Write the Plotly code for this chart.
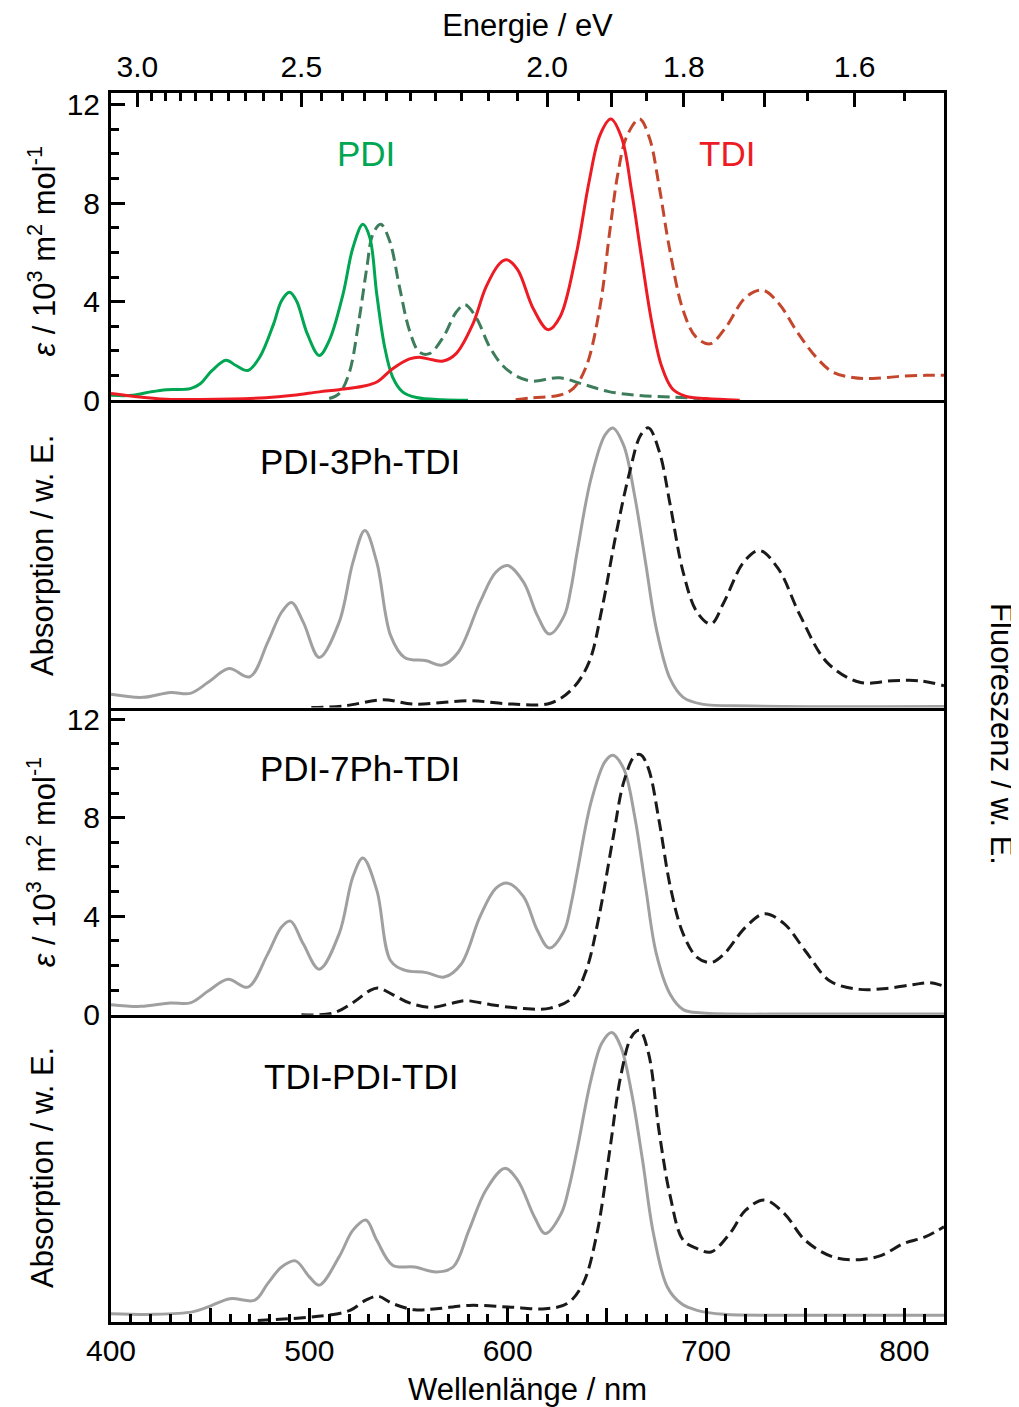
import plotly.graph_objects as go

# ---------------- data ----------------
# Panel 1: PDI and TDI reference spectra (epsilon / 10^3 m^2 mol^-1)
PDI_abs_nm = [400, 411, 420, 428, 440, 445, 451, 458, 463, 469, 475, 482, 486, 490, 493.5, 499, 505, 510,
              517, 522, 527, 530.5, 534, 538, 542, 547, 554, 567, 580]
PDI_abs = [0.2, 0.2, 0.34, 0.43, 0.47, 0.67, 1.21, 1.62, 1.41, 1.21, 1.75, 3.1, 4.04, 4.38, 4.04, 2.69, 1.82, 2.42,
           4.31, 6.2, 7.14, 6.6, 4.3, 2.15, 0.94, 0.34, 0.11, 0.02, 0.0]

PDI_fl_nm = [510, 515, 520, 525, 529, 532, 536, 540.5, 545.5, 550.5, 555.5, 560.5, 567.5, 574, 578.5, 584, 591,
             597, 604, 612, 626, 638, 651, 666, 683, 697]
PDI_fl = [0.07, 0.27, 1.08, 3.23, 5.39, 6.73, 7.14, 6.46, 4.58, 2.83, 1.95, 1.89, 2.56, 3.57, 3.88, 3.37, 2.15,
          1.45, 1.0, 0.78, 0.91, 0.65, 0.35, 0.2, 0.13, 0.07]

TDI_abs_nm = [400, 411, 428, 445, 478, 492, 505, 515, 527, 534, 542, 550.5, 555.5, 562, 567.5, 574, 582.5, 589,
              596, 599.5, 605, 613, 620.5, 626.5, 634.5, 641, 646.5, 652, 657.5, 662.5, 667.5, 672.5, 677.5,
              683, 690, 700, 717]
TDI_abs = [0.27, 0.16, 0.04, 0.03, 0.1, 0.2, 0.34, 0.43, 0.57, 0.74, 1.28, 1.68, 1.75, 1.64, 1.59, 1.89, 3.1, 4.58,
           5.55, 5.7, 5.3, 3.7, 2.86, 3.4, 5.9, 8.85, 10.75, 11.41, 10.64, 8.48, 5.79, 3.23, 1.41,
           0.47, 0.16, 0.07, 0.0]

TDI_fl_nm = [604, 612.5, 626, 633, 639.5, 646.5, 651.5, 655.5, 660, 666.5, 671.5, 676.5, 681.5, 688.5, 695, 702,
             710, 720, 728.5, 737, 745.5, 755.5, 764, 774, 784, 797.5, 811, 820]
TDI_fl = [0.02, 0.1, 0.2, 0.47, 1.35, 3.77, 6.87, 9.16, 10.7, 11.42, 10.64, 8.62, 6.2, 3.64, 2.56, 2.29,
          2.96, 4.18, 4.47, 3.9, 2.83, 1.75, 1.14, 0.92, 0.88, 0.97, 1.01, 1.01]

# Panel 2: PDI-3Ph-TDI (arbitrary units)
P3_abs_nm = [400, 416, 430, 440, 449, 459.5, 470, 479, 486, 491, 497, 505, 515, 522, 528, 534, 541, 548, 559, 567,
             575, 586, 594, 600, 608, 615, 621, 628.5, 632, 635, 642, 649, 653, 658.5, 664, 669.5, 675, 682, 688.5,
             698, 723, 820]
P3_abs = [0.043, 0.033, 0.049, 0.046, 0.082, 0.127, 0.1, 0.212, 0.31, 0.342, 0.277, 0.163, 0.277, 0.473, 0.576,
          0.473, 0.234, 0.163, 0.152, 0.138, 0.179, 0.342, 0.44, 0.462, 0.408, 0.299, 0.239, 0.299, 0.39, 0.505,
          0.745, 0.886, 0.91, 0.853, 0.69, 0.473, 0.255, 0.092, 0.033, 0.011, 0.005, 0.003]
P3_fl_nm = [501, 517.5, 537, 553, 580.5, 602.5, 621.5, 632.5, 641, 647.5, 654.5, 661.5, 667, 671, 676.5, 682,
            688.5, 695.5, 702.5, 709, 719, 727, 736.5, 747.5, 761, 777.5, 794, 807.5, 820]
P3_fl = [0.0, 0.005, 0.025, 0.011, 0.022, 0.011, 0.014, 0.06, 0.147, 0.32, 0.56, 0.766, 0.886, 0.91, 0.832, 0.658,
         0.44, 0.31, 0.272, 0.342, 0.473, 0.511, 0.451, 0.299, 0.147, 0.082, 0.087, 0.087, 0.071]

# Panel 3: PDI-7Ph-TDI (epsilon / 10^3 m^2 mol^-1)
P7_abs_nm = [400, 415, 430, 440, 449, 459, 469, 479, 486, 490.5, 497, 505, 515, 522, 527, 534, 541, 548, 559, 568,
             576.5, 586, 594, 600, 608, 615, 621, 628.5, 632, 635, 642, 649, 653, 658.5, 664, 669.5, 675, 682, 688.5,
             698, 750, 820]
P7_abs = [0.41, 0.34, 0.48, 0.48, 0.96, 1.44, 1.12, 2.46, 3.56, 3.8, 2.87, 1.85, 3.28, 5.61, 6.36, 5.06, 2.19,
          1.81, 1.71, 1.53, 2.05, 3.97, 5.13, 5.34, 4.79, 3.42, 2.71, 3.42, 4.5, 5.75, 8.62, 10.26, 10.53, 9.99,
          8.07, 5.2, 2.46, 0.82, 0.21, 0.07, 0.03, 0.03]
P7_fl_nm = [496, 512, 523, 530, 534.5, 542, 550.5, 561.5, 572.5, 579, 591.5, 608, 621.5, 632.5, 639.5, 646, 653,
            658.5, 664, 667, 671, 676.5, 682, 688.5, 695.5, 702.5, 709, 720, 729.5, 739.5, 750, 762.5, 777.5,
            791, 805, 813, 820]
P7_fl = [0.0, 0.07, 0.55, 0.96, 1.09, 0.82, 0.48, 0.3, 0.48, 0.57, 0.41, 0.25, 0.27, 0.68, 1.78, 3.97, 7.11,
         9.44, 10.5, 10.56, 9.99, 7.8, 5.2, 3.28, 2.33, 2.12, 2.46, 3.56, 4.1, 3.69, 2.6, 1.37, 1.03,
         1.07, 1.23, 1.3, 1.16]

# Panel 4: TDI-PDI-TDI (arbitrary units)
TPT_abs_nm = [400, 422, 441, 449, 460, 472.5, 479, 486, 493, 500, 505, 515, 522, 528.5, 534, 542, 553, 564, 572.5,
              580.5, 589, 598.5, 605, 613.5, 619, 627, 631, 635, 642, 647.5, 652.5, 657, 662.5, 668, 673.5, 680.5,
              687.5, 695.5, 709, 736.5, 777.5, 820]
TPT_abs = [0.027, 0.025, 0.033, 0.049, 0.076, 0.071, 0.125, 0.179, 0.199, 0.147, 0.12, 0.212, 0.299, 0.332,
           0.266, 0.185, 0.179, 0.163, 0.179, 0.299, 0.429, 0.5, 0.462, 0.342, 0.288, 0.353, 0.44, 0.56, 0.788,
           0.908, 0.942, 0.897, 0.745, 0.527, 0.288, 0.114, 0.06, 0.038, 0.025, 0.022, 0.022, 0.022]
TPT_fl_nm = [474, 509.5, 520.5, 528.5, 534.5, 542, 553, 564, 580.5, 600, 619, 630, 638, 645, 651.5, 657, 662.5,
             666.5, 671, 676.5, 682, 688.5, 695.5, 702.5, 712, 720, 729.5, 739.5, 750, 764, 777.5, 788.5,
             799.5, 810.5, 820]
TPT_fl = [0.005, 0.022, 0.038, 0.071, 0.084, 0.06, 0.04, 0.043, 0.054, 0.049, 0.043, 0.06, 0.125, 0.288, 0.56,
          0.8, 0.929, 0.949, 0.875, 0.614, 0.408, 0.266, 0.239, 0.228, 0.288, 0.364, 0.397, 0.353, 0.266, 0.212,
          0.203, 0.217, 0.255, 0.277, 0.31]

# axis ticks
WL_ticks = [400, 500, 600, 700, 800]
WL_mid_ticks = [450, 550, 650, 750]
E_major = [3.0, 2.5, 2.0, 1.8, 1.6]
E_labels = ["3.0", "2.5", "2.0", "1.8", "1.6"]
E_mid = [1.9, 1.7]
E_minor = [2.95, 2.9, 2.85, 2.8, 2.75, 2.7, 2.65, 2.6, 2.55, 2.45, 2.4, 2.35, 2.3, 2.25, 2.2, 2.15, 2.1, 2.05,
           1.95, 1.85, 1.75, 1.65, 1.55]
EPS_ticks = [0, 4, 8, 12]
HC = 1239.84  # eV nm

# ---------------- figure ----------------
FONT = "Liberation Sans, Arial, sans-serif"
GREEN = "#00a651"
DGREEN = "#3d7d5b"
RED = "#ed1c24"
BROWN = "#c4472d"
GRAY = "#a0a0a0"
BLACK = "#1a1a1a"
LW = 3
DASH = "12px,6px"

fig = go.Figure()


def add(x, y, color, dash, xa, ya):
    fig.add_trace(go.Scatter(x=x, y=y, mode="lines", xaxis=xa, yaxis=ya, showlegend=False,
                             line=dict(color=color, width=LW, dash=dash, shape="spline", smoothing=1.0),
                             hoverinfo="skip"))


# panel 1 (top): x4/y4
add(PDI_fl_nm, PDI_fl, DGREEN, DASH, "x4", "y4")
add(TDI_fl_nm, TDI_fl, BROWN, DASH, "x4", "y4")
add(PDI_abs_nm, PDI_abs, GREEN, "solid", "x4", "y4")
add(TDI_abs_nm, TDI_abs, RED, "solid", "x4", "y4")
# panel 2: x3/y3
add(P3_abs_nm, P3_abs, GRAY, "solid", "x3", "y3")
add(P3_fl_nm, P3_fl, BLACK, DASH, "x3", "y3")
# panel 3: x2/y2
add(P7_abs_nm, P7_abs, GRAY, "solid", "x2", "y2")
add(P7_fl_nm, P7_fl, BLACK, DASH, "x2", "y2")
# panel 4: x/y
add(TPT_abs_nm, TPT_abs, GRAY, "solid", "x", "y")
add(TPT_fl_nm, TPT_fl, BLACK, DASH, "x", "y")
# register overlay-axis subplots (energy axis and unlabelled tick rows)
for xa, ya in (("x5", "y4"), ("x6", "y4"), ("x7", "y")):
    fig.add_trace(go.Scatter(x=[], y=[], xaxis=xa, yaxis=ya, showlegend=False, hoverinfo="skip"))

XR = [400, 820]
base = dict(showgrid=False, zeroline=False, automargin=False)
line = dict(showline=True, linewidth=3, linecolor="black")
tickfont = dict(family=FONT, size=30, color="black")
titlefont = dict(family=FONT, size=31, color="black")
TK = dict(ticks="inside", ticklen=14, tickwidth=2.5, tickcolor="black")
MTK = dict(ticks="inside", ticklen=8, tickwidth=2.5, tickcolor="black")

layout_axes = dict(
    xaxis=dict(domain=[0, 1], anchor="y", range=XR, tickmode="array", tickvals=WL_ticks, **TK,
               minor=dict(dtick=10, tick0=400, **MTK),
               tickfont=tickfont, ticklabelstandoff=0,
               title=dict(text="Wellenlänge / nm", font=titlefont, standoff=15),
               mirror=False, **line, **base),
    xaxis7=dict(domain=[0, 1], anchor="y", overlaying="x", side="bottom", range=XR, tickmode="array",
                tickvals=WL_mid_ticks, showticklabels=False, **TK, showline=False, **base),
    xaxis2=dict(domain=[0, 1], anchor="y2", range=XR, matches="x", ticks="", showticklabels=False,
                mirror=False, **line, **base),
    xaxis3=dict(domain=[0, 1], anchor="y3", range=XR, matches="x", ticks="", showticklabels=False,
                mirror=False, **line, **base),
    xaxis4=dict(domain=[0, 1], anchor="y4", range=XR, matches="x", ticks="", showticklabels=False,
                mirror=False, **line, **base),
    xaxis5=dict(domain=[0, 1], anchor="y4", overlaying="x4", side="top", range=XR,
                tickmode="array", tickvals=[HC / e for e in E_major], ticktext=E_labels, **TK,
                minor=dict(tickmode="array", tickvals=[HC / e for e in E_minor], **MTK),
                tickfont=tickfont, ticklabelstandoff=1,
                title=dict(text="Energie / eV", font=titlefont, standoff=15),
                **line, **base),
    xaxis6=dict(domain=[0, 1], anchor="y4", overlaying="x4", side="top", range=XR, tickmode="array",
                tickvals=[HC / e for e in E_mid], showticklabels=False, **TK, showline=False, **base),
    yaxis=dict(domain=[0, 0.25], anchor="x", range=[0, 1], ticks="", showticklabels=False,
               mirror=True, **line, **base),
    yaxis2=dict(domain=[0.25, 0.5], anchor="x2", range=[0, 12.47], tickmode="array", tickvals=EPS_ticks, **TK,
                minor=dict(dtick=1, tick0=0, **MTK),
                tickfont=tickfont, ticklabelstandoff=2, mirror=True, **line, **base),
    yaxis3=dict(domain=[0.5, 0.75], anchor="x3", range=[0, 1], ticks="", showticklabels=False,
                mirror=True, **line, **base),
    yaxis4=dict(domain=[0.75, 1], anchor="x4", range=[0, 12.47], tickmode="array", tickvals=EPS_ticks, **TK,
                minor=dict(dtick=1, tick0=0, **MTK),
                tickfont=tickfont, ticklabelstandoff=2, mirror=True, **line, **base),
)

eps_title = "<i>ε</i> / 10<sup>3</sup> m<sup>2</sup> mol<sup>-1</sup>"
tfont = dict(family=FONT, size=31, color="black")
lfont = dict(family=FONT, size=35, color="black")
annotations = [
    dict(text=eps_title, xref="paper", yref="paper", x=-0.083, y=0.871, textangle=-90, showarrow=False,
         font=tfont, xanchor="center", yanchor="middle"),
    dict(text="Absorption / w. E.", xref="paper", yref="paper", x=-0.083, y=0.624, textangle=-90,
         showarrow=False, font=tfont, xanchor="center", yanchor="middle"),
    dict(text=eps_title, xref="paper", yref="paper", x=-0.083, y=0.374, textangle=-90, showarrow=False,
         font=tfont, xanchor="center", yanchor="middle"),
    dict(text="Absorption / w. E.", xref="paper", yref="paper", x=-0.083, y=0.126, textangle=-90,
         showarrow=False, font=tfont, xanchor="center", yanchor="middle"),
    dict(text="Fluoreszenz / w. E.", xref="paper", yref="paper", x=1.069, y=0.478, textangle=90,
         showarrow=False, font=tfont, xanchor="center", yanchor="middle"),
    dict(text="PDI", xref="x4", yref="y4", x=528.5, y=10, showarrow=False,
         font=dict(family=FONT, size=35, color=GREEN), xanchor="center", yanchor="middle"),
    dict(text="TDI", xref="x4", yref="y4", x=710.5, y=10, showarrow=False,
         font=dict(family=FONT, size=35, color=RED), xanchor="center", yanchor="middle"),
    dict(text="PDI-3Ph-TDI", xref="x3", yref="y3", x=474, y=0.8, showarrow=False, font=lfont,
         xanchor="left", yanchor="middle"),
    dict(text="PDI-7Ph-TDI", xref="x2", yref="y2", x=474, y=10.0, showarrow=False, font=lfont,
         xanchor="left", yanchor="middle"),
    dict(text="TDI-PDI-TDI", xref="x", yref="y", x=476, y=0.8, showarrow=False, font=lfont,
         xanchor="left", yanchor="middle"),
]

# the page body adds an 8 px margin; size and margins compensate for it
fig.update_layout(
    width=1011, height=1399,
    margin=dict(l=103, r=75, t=85, b=85),
    paper_bgcolor="white", plot_bgcolor="white",
    font=dict(family=FONT, color="black"),
    annotations=annotations,
    **layout_axes,
)

fig.write_html("out.html")
